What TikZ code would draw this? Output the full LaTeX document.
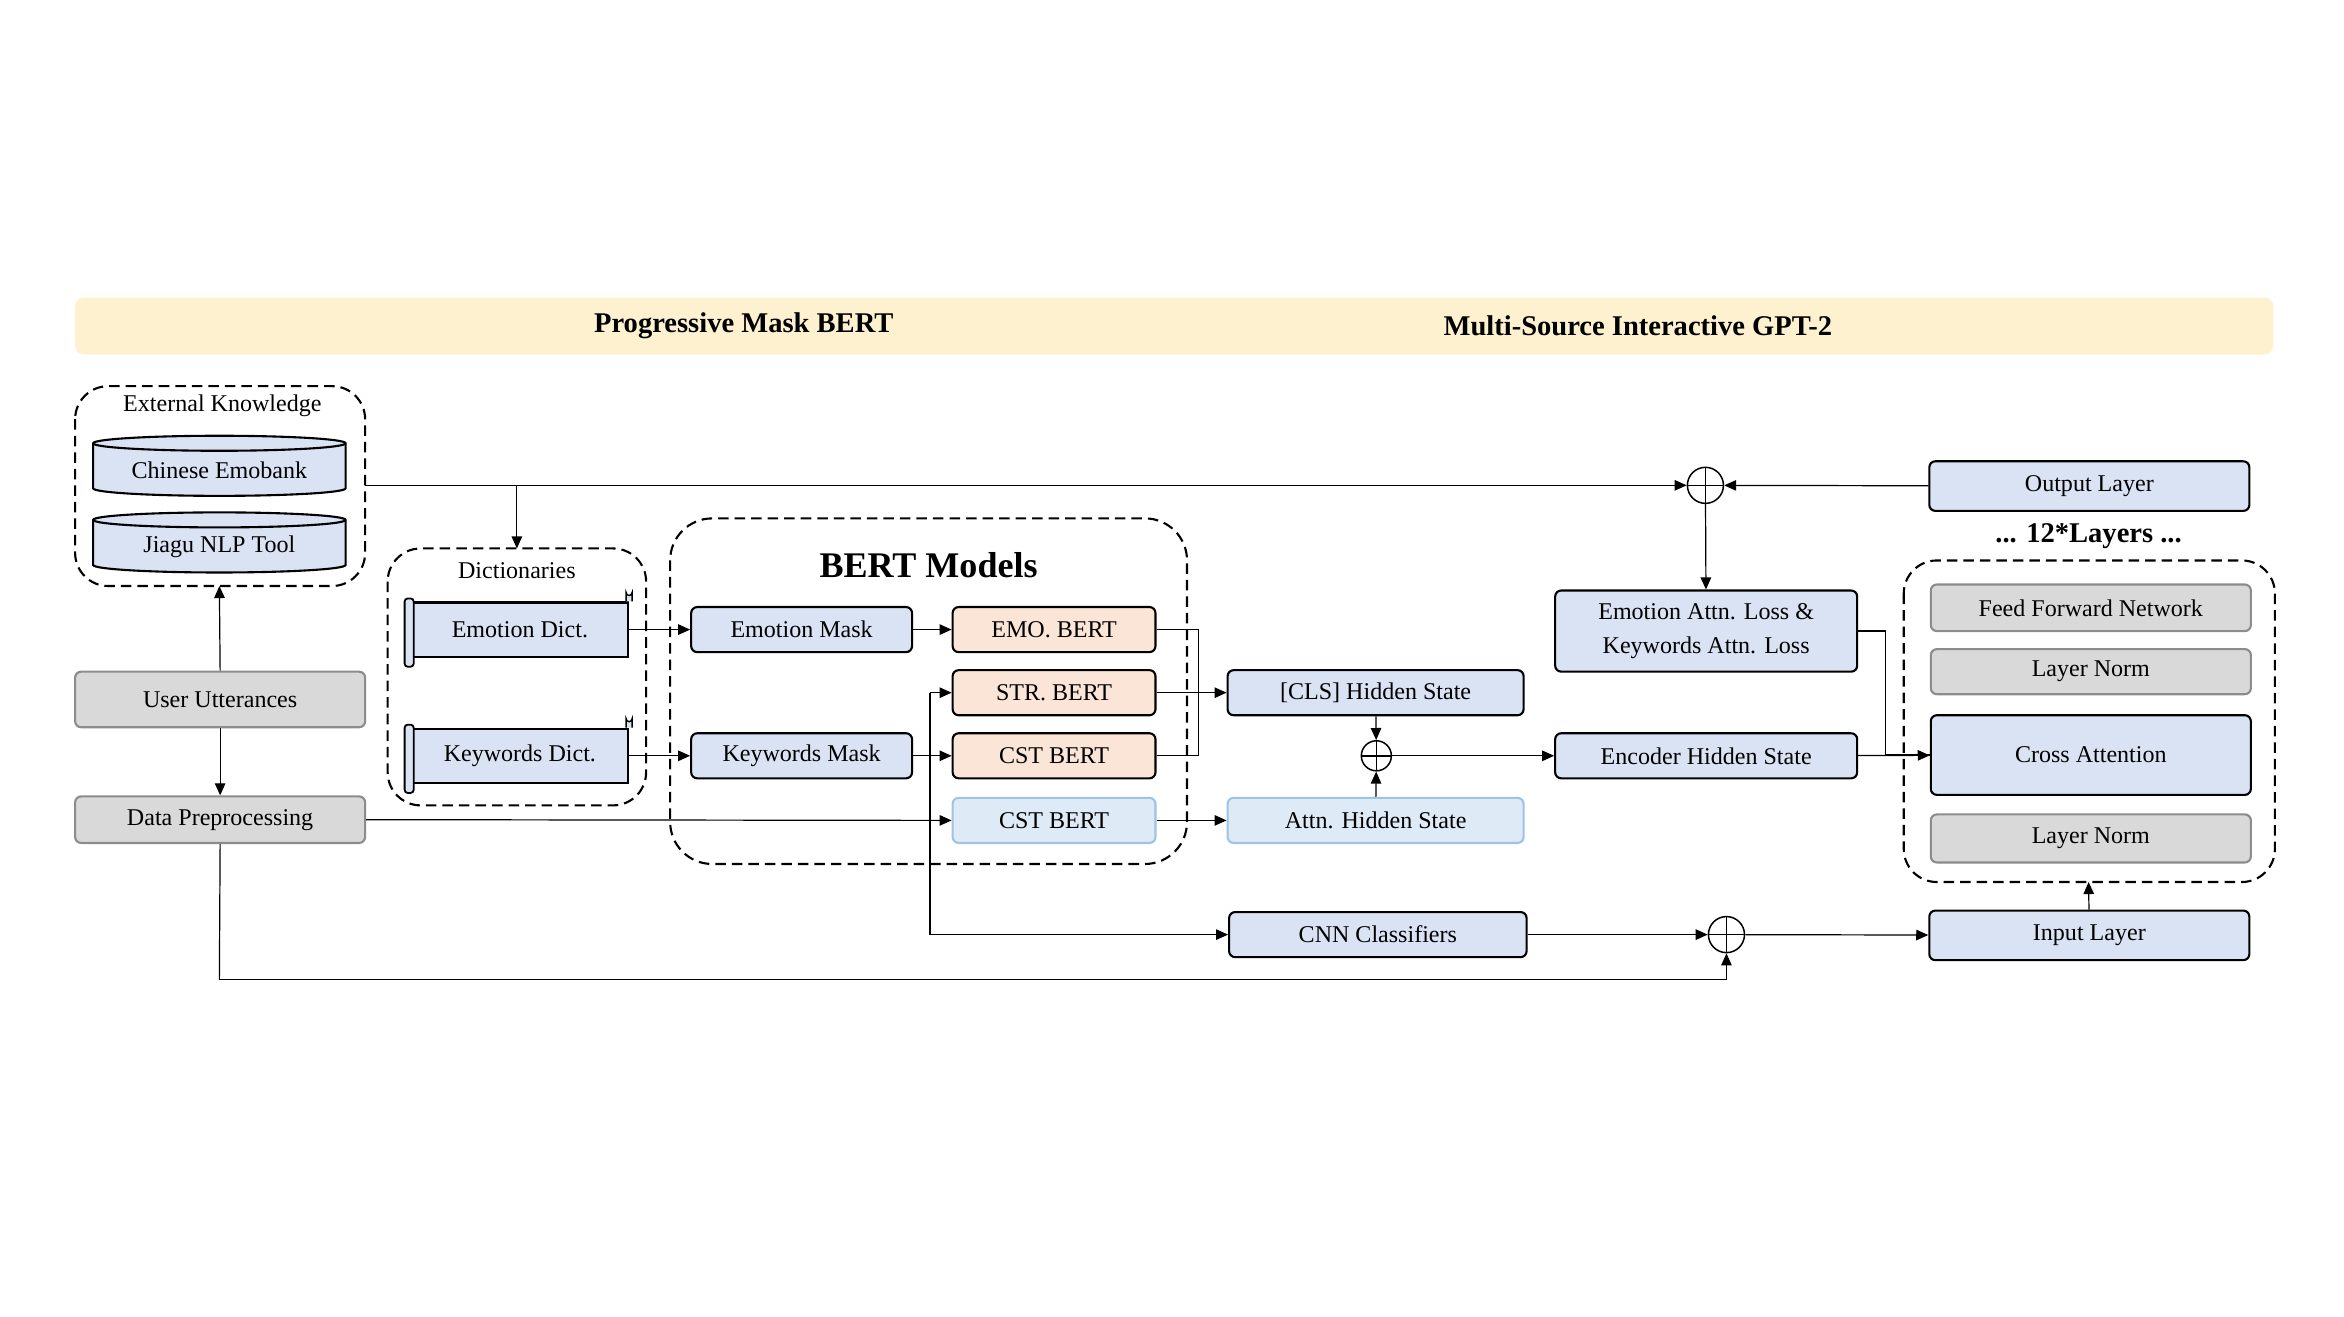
\documentclass[tikz,border=0pt]{standalone}
\usepackage{fontspec}
\setmainfont{Liberation Serif}
\usetikzlibrary{arrows.meta,calc}
\definecolor{bl}{HTML}{DAE3F3}
\definecolor{lb}{HTML}{DEEBF7}
\definecolor{lbd}{HTML}{9DC3E6}
\definecolor{gr}{HTML}{D9D9D9}
\definecolor{grd}{HTML}{8C8C8C}
\definecolor{orf}{HTML}{FBE5D6}
\definecolor{ban}{HTML}{FDF1CF}
\begin{document}
\begin{tikzpicture}[x=1pt,y=-1pt,
  font=\fontsize{16}{18}\selectfont,
  box/.style={draw,line width=1.4pt,rounded corners=4pt,fill=bl,inner sep=0pt,align=center},
  gbox/.style={box,draw=grd,fill=gr},
  obox/.style={box,fill=orf},
  lbox/.style={box,draw=lbd,fill=lb},
  dgroup/.style={draw,line width=1.4pt,dash pattern=on 7pt off 4pt,rounded corners=22pt},
  arr/.style={-{Triangle[length=8pt,width=7pt]},line width=0.8pt},
  ln/.style={line width=0.8pt},
  plus/.style={draw,circle,line width=1pt,minimum size=24pt,inner sep=0pt,path picture={\draw[line width=1pt] (path picture bounding box.north)--(path picture bounding box.south) (path picture bounding box.west)--(path picture bounding box.east);}},
  splus/.style={plus,minimum size=20pt}]
\useasboundingbox (0,0) rectangle (1560,876);
% banner
\fill[ban,rounded corners=6pt] (50,198) rectangle (1513,236);
\node[font=\fontsize{19}{21}\selectfont\bfseries] (t1) at (495,217) {Progressive Mask BERT};
\node[font=\fontsize{19}{21}\selectfont\bfseries] (t2) at (1090,217) {Multi-Source Interactive GPT-2};
% external knowledge
\draw[dgroup] (50,257) rectangle (243,390);
\node (ekl) at (148,270) {External Knowledge};
\foreach \yt/\yb in {295/325,346/376}{
 \draw[fill=bl,line width=1.4pt] (62,\yt) -- (62,\yb) arc[start angle=180,end angle=0,x radius=84,y radius=5] -- (230,\yt) arc[start angle=0,end angle=-180,x radius=84,y radius=5] -- cycle;
 \draw[line width=1.4pt] (62,\yt) arc[start angle=180,end angle=0,x radius=84,y radius=5];}
\node (ceb) at (146,313) {Chinese Emobank};
\node (jia) at (146,364) {Jiagu NLP Tool};
\node[gbox,minimum width=193pt,minimum height=37pt] (uu) at (146.5,465.5) {User Utterances};
\node[gbox,minimum width=193pt,minimum height=31pt] (dp) at (146.5,545.5) {Data Preprocessing};
\coordinate (ekb) at (146,390);
\coordinate (ekr) at (243,323);
\draw[arr] (uu.north) -- (ekb);
\draw[arr] (uu.south) -- (dp.north);
% dictionaries
\draw[dgroup] (258,365) rectangle (430,536);
\node (dl) at (344,380) {Dictionaries};
\node[box,rounded corners=0pt,minimum width=144pt,minimum height=36pt] (ed) at (346,419) {Emotion Dict.};
\node[box,rounded corners=0pt,minimum width=144pt,minimum height=36pt] (kd) at (346,503) {Keywords Dict.};
\foreach \n in {ed,kd}{
 \draw[fill=bl,line width=1.2pt,rounded corners=2pt] ($(\n.north west)+(-4,-2)$) rectangle ($(\n.south west)+(2,6)$);
 \draw[fill=bl,line width=1pt] ($(\n.north east)+(-2,0)$) -- ++(0,-6) arc[start angle=180,end angle=0,radius=2] -- ++(0,6);}
% BERT models
\draw[dgroup,rounded corners=28pt] (446,345) rectangle (790,575);
\node[font=\fontsize{24}{26}\selectfont\bfseries] (bm) at (618,376) {BERT Models};
\node[box,minimum width=147pt,minimum height=30pt] (em) at (533.5,419) {Emotion Mask};
\node[box,minimum width=147pt,minimum height=30pt] (km) at (533.5,503) {Keywords Mask};
\node[obox,minimum width=135pt,minimum height=30pt] (emo) at (701.5,419) {EMO. BERT};
\node[obox,minimum width=135pt,minimum height=30pt] (str) at (701.5,461) {STR. BERT};
\node[obox,minimum width=135pt,minimum height=30pt] (cst) at (701.5,503) {CST BERT};
\node[lbox,minimum width=135pt,minimum height=30pt] (cst2) at (701.5,546) {CST BERT};
\draw[arr] (ed) -- (em);
\draw[arr] (kd) -- (km);
\draw[arr] (em) -- (emo);
\draw[arr] (km) -- (cst);
\coordinate (j1) at (619,461);
\coordinate (j2) at (619,622);
\draw[arr] (j1) -- (str);
\draw[arr] (dp.east) -- (cst2.west);
\draw[ln] (emo.east) -- ++(28,0) |- (cst.east);
% CLS / Attn
\node[box,minimum width=197pt,minimum height=30pt] (cls) at (915.5,461) {[CLS] Hidden State};
\node[lbox,minimum width=197pt,minimum height=30pt] (ahs) at (915.5,546) {Attn. Hidden State};
\node[splus] (p2) at (916,503) {};
\draw[arr] (str) -- (cls);
\draw[arr] (cst2) -- (ahs);
\draw[arr] (cls) -- (p2);
\draw[arr] (ahs) -- (p2);
\node[box,minimum width=201pt,minimum height=30pt] (enc) at (1135.5,503) {Encoder Hidden State};
\draw[arr] (p2) -- (enc);
\node[box,minimum width=201pt,minimum height=54pt,font=\fontsize{16}{22}\selectfont] (eal) at (1135.5,420) {Emotion Attn. Loss \&\\Keywords Attn. Loss};
% top plus
\node[plus] (p1) at (1135,323) {};
\node[box,minimum width=213pt,minimum height=33pt] (out) at (1390.5,323.5) {Output Layer};
\coordinate (dtop) at (344,323);
\coordinate (dbox) at (344,365);
\draw[arr] (ekr) -- (p1);
\draw[arr] (dtop) -- (dbox);
\draw[arr] (out) -- (p1);
\draw[arr] (p1) -- (eal);
% GPT layers
\node[font=\fontsize{19}{21}\selectfont\bfseries] (tl) at (1390,357) {... 12*Layers ...};
\draw[dgroup] (1267,373) rectangle (1514,587);
\node[gbox,minimum width=213pt,minimum height=31pt] (ffn) at (1391.5,404.5) {Feed Forward Network};
\node[gbox,minimum width=213pt,minimum height=30pt] (ln1) at (1391.5,447) {Layer Norm};
\node[box,minimum width=213pt,minimum height=53pt] (ca) at (1391.5,502.5) {Cross Attention};
\node[gbox,minimum width=213pt,minimum height=32pt] (ln2) at (1391.5,558) {Layer Norm};
\node[box,minimum width=213pt,minimum height=33pt] (inl) at (1390.5,622.5) {Input Layer};
\coordinate (gb) at (1390,587);
\draw[arr] (inl) -- (gb);
\draw[arr] (enc) -- (ca);
\draw[ln] (eal.east) -- ++(18,0) |- (ca.west);
% CNN
\node[box,minimum width=198pt,minimum height=30pt] (cnn) at (917,622) {CNN Classifiers};
\node[plus] (p3) at (1149,622) {};
\draw[ln] (j1) -- (j2);
\draw[arr] (j2) -- (cnn);
\draw[arr] (cnn) -- (p3);
\draw[arr] (p3) -- (inl);
\coordinate (bl1) at (146,652);
\draw[ln] (dp.south) -- (bl1);
\draw[arr] (bl1) -| (p3.south);
\end{tikzpicture}
\end{document}
